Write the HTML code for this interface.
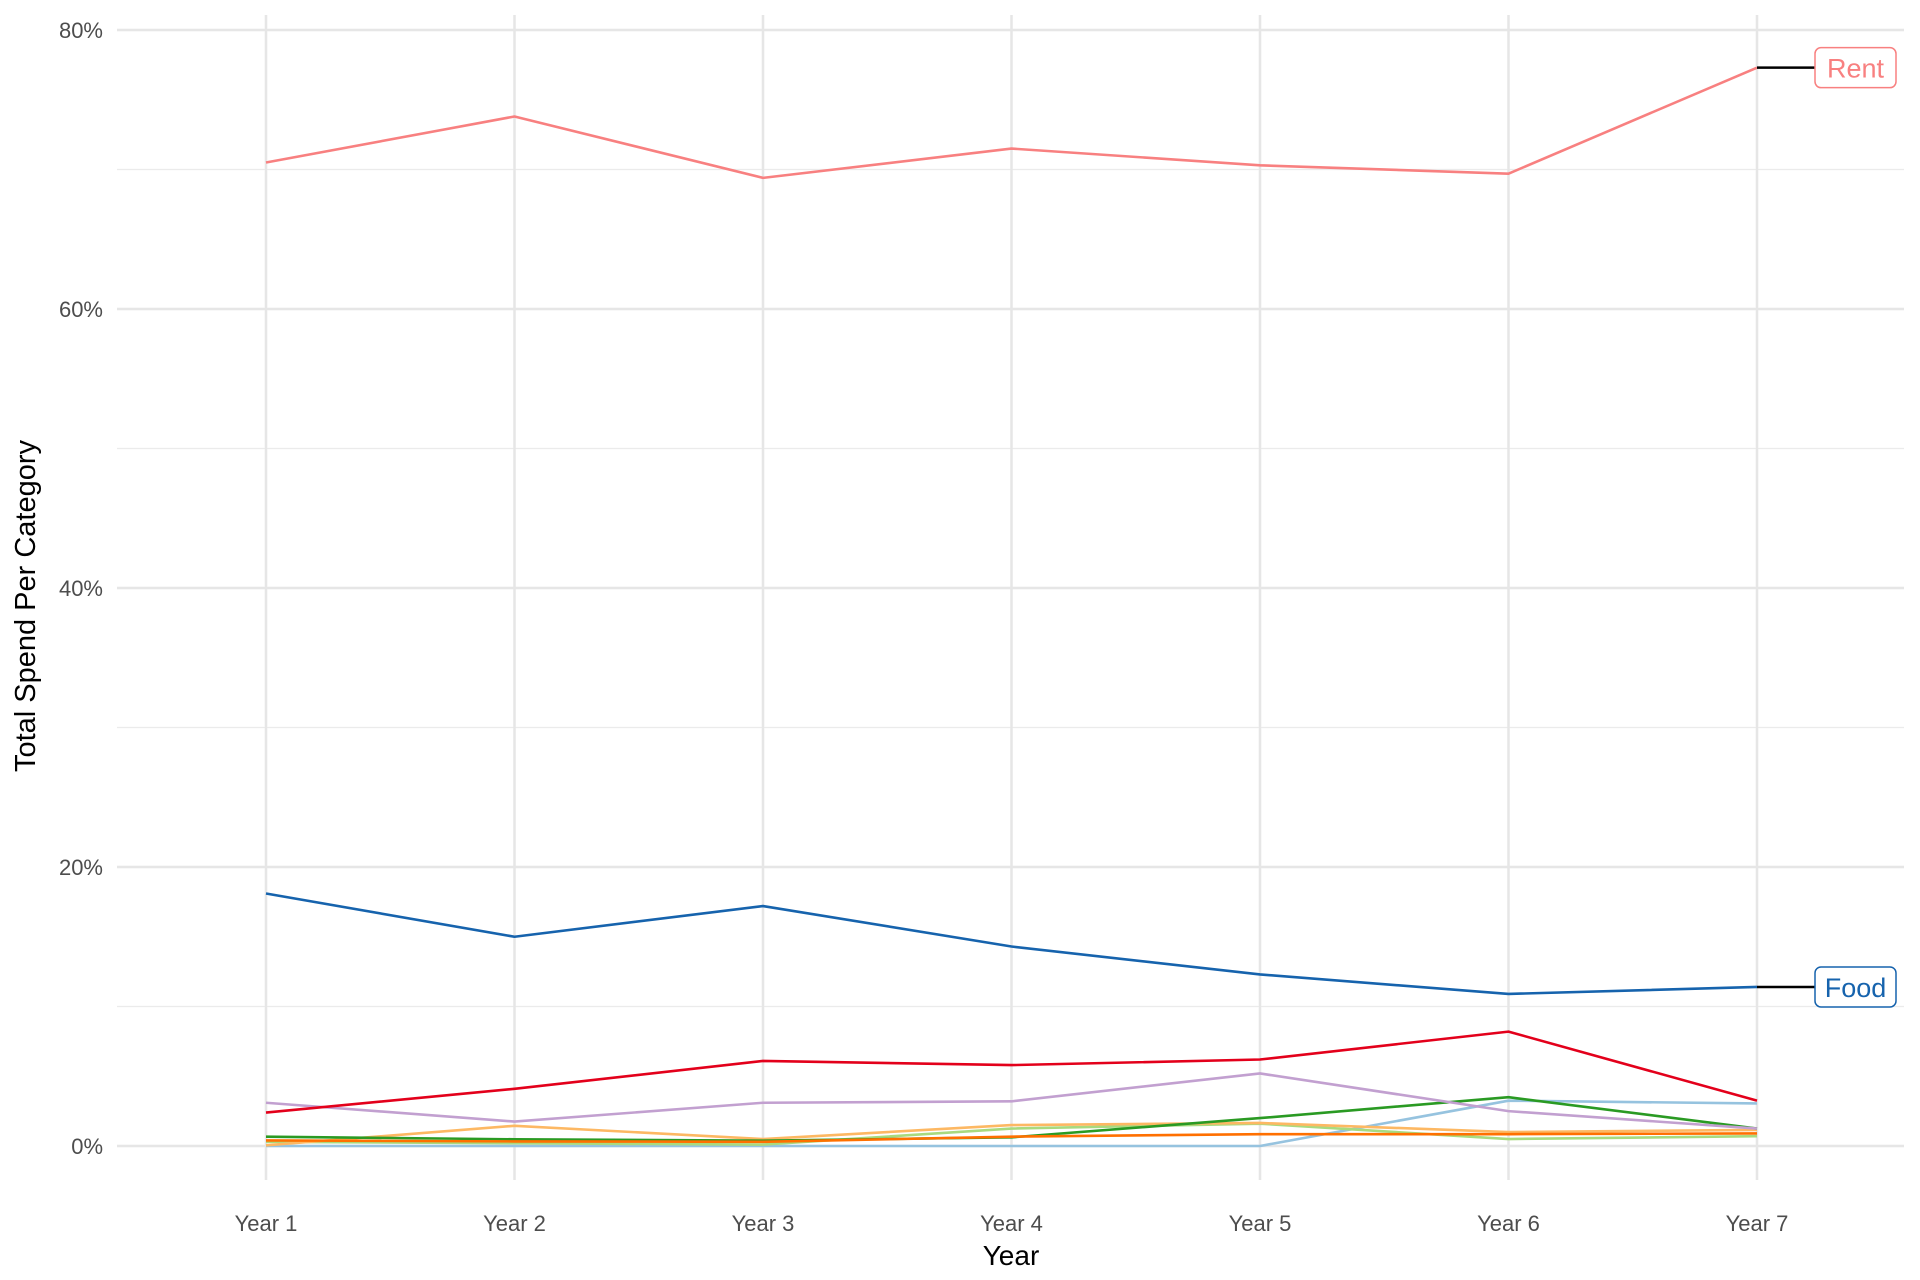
<!DOCTYPE html>
<html><head><meta charset="utf-8"><style>
html,body{margin:0;padding:0;background:#fff;}
svg{display:block;font-family:"Liberation Sans",Arial,sans-serif;}
</style></head><body>
<svg id="chart" width="1920" height="1280" viewBox="0 0 1920 1280" xmlns="http://www.w3.org/2000/svg">
<g id="grid"></g>
<g id="series"></g>
<g id="labels"></g>
<g id="axes"></g>
<text x="1011" y="1265" font-size="28" text-anchor="middle" fill="#000">Year</text>
<text transform="translate(35,606) rotate(-90)" font-size="29" text-anchor="middle" fill="#000">Total Spend Per Category</text>
</svg>
<script>
const categories = ["Year 1","Year 2","Year 3","Year 4","Year 5","Year 6","Year 7"];
const yTicks = [0,20,40,60,80];
const yTickLabels = ["0%","20%","40%","60%","80%"];
const rent = [70.5,73.8,69.4,71.5,70.3,69.7,77.3];
const food = [18.1,15.0,17.2,14.3,12.3,10.9,11.4];
const redSeries = [2.4,4.1,6.1,5.8,6.2,8.2,3.25];
const purpleSeries = [3.1,1.75,3.1,3.2,5.2,2.5,1.25];
const lightBlueSeries = [0,0,0,0,0,3.25,3.05];
const lightOrangeSeries = [0.05,1.45,0.5,1.5,1.65,1.0,1.15];
const lightGreenSeries = [0.3,0.2,0.1,1.25,1.6,0.5,0.7];
const greenSeries = [0.67,0.48,0.38,0.62,2.0,3.5,1.25];
const orangeSeries = [0.4,0.33,0.3,0.67,0.85,0.85,0.9];

const NS="http://www.w3.org/2000/svg";
const X0=266, XSTEP=248.5, Y0=1146, PX_PER_PCT=13.95;
const PL=117, PR=1904, PT=15, PB=1180;
function xs(i){return X0+i*XSTEP;}
function ys(v){return Y0-v*PX_PER_PCT;}
function mk(tag,attrs,parent){const e=document.createElementNS(NS,tag);for(const k in attrs)e.setAttribute(k,attrs[k]);parent.appendChild(e);return e;}

const grid=document.getElementById('grid');
for(let i=0;i<yTicks.length-1;i++){
  const v=(yTicks[i]+yTicks[i+1])/2;
  const l=mk('line',{x1:PL,x2:PR,y1:ys(v),y2:ys(v),stroke:'#ebebeb','stroke-width':1.3},grid);
  
  
}
yTicks.forEach((v,i)=>{
  const l=mk('line',{x1:PL,x2:PR,y1:ys(v),y2:ys(v),stroke:'#e6e6e6','stroke-width':2.5},grid);
  
  
  const t=mk('text',{x:103,y:ys(v)+8,'font-size':22,'text-anchor':'end',fill:'#4d4d4d'},grid);
  t.textContent=yTickLabels[i];
  
  
});
categories.forEach((c,i)=>{
  const l=mk('line',{x1:xs(i),x2:xs(i),y1:PT,y2:PB,stroke:'#e6e6e6','stroke-width':2.5},grid);
  
  
  const t=mk('text',{x:xs(i),y:1231,'font-size':22,'text-anchor':'middle',fill:'#4d4d4d'},grid);
  t.textContent=c;
  
  
});

const seriesG=document.getElementById('series');
const seriesList=[
  ['light-blue-line',lightBlueSeries,'#96c3df'],
  ['light-green-line',lightGreenSeries,'#a9da7f'],
  ['light-orange-line',lightOrangeSeries,'#fdb863'],
  ['green-line',greenSeries,'#2a9a23'],
  ['orange-line',orangeSeries,'#ff7000'],
  ['purple-line',purpleSeries,'#c2a0d0'],
  ['red-line',redSeries,'#e3001b'],
  ['food-line',food,'#1663ad'],
  ['rent-line',rent,'#f88080']
];
seriesList.forEach(([name,vals,col])=>{
  const pts=vals.map((v,i)=>xs(i)+','+ys(v)).join(' ');
  const p=mk('polyline',{points:pts,fill:'none',stroke:col,'stroke-width':2.6,'stroke-linejoin':'round'},seriesG);
  
  
});

const lab=document.getElementById('labels');
function label(name,text,v,col){
  const y=ys(v), x7=xs(6);
  const s=mk('line',{x1:x7,x2:1815,y1:y,y2:y,stroke:'#000','stroke-width':2.5},lab);
  
  
  const r=mk('rect',{x:1815,y:y-20,width:81,height:40,rx:6,fill:'#fff',stroke:col,'stroke-width':1.5},lab);
  
  
  const t=mk('text',{x:1855.5,y:y+10,'font-size':27,'text-anchor':'middle',fill:col},lab);
  t.textContent=text;
  
  
}
label('rent','Rent',rent[6],'#f88080');
label('food','Food',food[6],'#1663ad');
</script>
</body></html>
